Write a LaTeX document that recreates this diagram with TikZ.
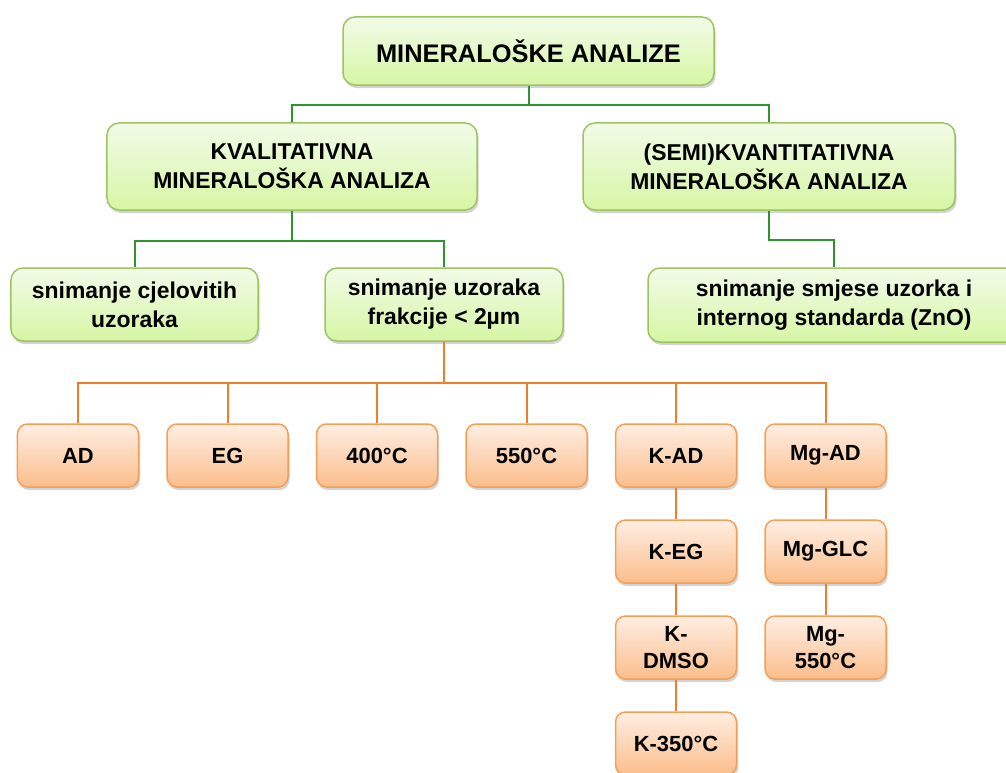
\documentclass[tikz,border=0pt]{standalone}
\usepackage{fontspec}
\setmainfont{Liberation Sans}
\usetikzlibrary{positioning}
\usetikzlibrary{shadows}

\definecolor{gline}{RGB}{46,148,46}
\definecolor{gtop}{RGB}{242,251,232}
\definecolor{gbot}{RGB}{214,246,164}
\definecolor{gedge}{RGB}{158,196,98}
\definecolor{oline}{RGB}{238,125,45}
\definecolor{otop}{RGB}{254,238,226}
\definecolor{obot}{RGB}{251,190,140}
\definecolor{oedge}{RGB}{245,158,86}

\begin{document}
\begin{tikzpicture} [x=1bp, y=-1bp,
        gbox/.style = {draw=gedge, line width=1.5bp, rounded corners=12bp, top color=gtop, bottom color=gbot,
                       align=center, inner sep=0pt, minimum height=87bp,
                       font=\fontsize{23}{29}\selectfont\bfseries,
                       drop shadow={shadow xshift=1.5bp, shadow yshift=-3bp, opacity=0.35}},
        obox/.style = {draw=oedge, line width=1.5bp, rounded corners=10bp, top color=otop, bottom color=obot,
                       align=center, inner sep=0pt, minimum width=121bp, minimum height=63bp,
                       font=\fontsize{22}{27}\selectfont\bfseries,
                       drop shadow={shadow xshift=1.5bp, shadow yshift=-3bp, opacity=0.35}},
        gedge/.style = {draw=gline, line width=2bp},
        oedge/.style = {draw=oline, line width=2bp}]
        \useasboundingbox (0,0) rectangle (1006,773);

        %Knoten
        \node[gbox, minimum width=371bp, minimum height=68bp, font=\fontsize{25.5}{30}\selectfont\bfseries] (min) at (528.5,51) {MINERALOŠKE ANALIZE};

        \node[gbox, minimum width=370bp] (kval) at (292,166.5) {KVALITATIVNA\\MINERALOŠKA ANALIZA};
        \node[gbox, minimum width=372bp] (kvant) at (769,166.5) {(SEMI)KVANTITATIVNA\\MINERALOŠKA ANALIZA};

        \node[gbox, minimum width=247bp, minimum height=73bp] (cjel) at (134.5,304.5) {snimanje cjelovitih\\uzoraka};
        \node[gbox, minimum width=238bp, minimum height=73bp] (frak) at (444,304.5) {snimanje uzoraka\\frakcije < 2µm};
        \node[gbox, minimum width=372bp, minimum height=74bp] (smj) at (834,305) {snimanje smjese uzorka i\\internog standarda (ZnO)};

        \node[obox] (ad) at (78,455.5) {AD};
        \node[obox] (eg) [right = 27bp of ad] {EG};
        \node[obox] (t400) [right = 27bp of eg] {400°C};
        \node[obox] (t550) [right = 27bp of t400] {550°C};
        \node[obox] (kad) [right = 27bp of t550] {K-AD};
        \node[obox] (mgad) [right = 27bp of kad] {Mg-AD};

        \node[obox] (keg) [below = 31.5bp of kad] {K-EG};
        \node[obox] (kdmso) [below = 31.5bp of keg] {K-\\DMSO};
        \node[obox] (k350) [below = 31.5bp of kdmso] {K-350°C};

        \node[obox] (mgglc) [below = 31.5bp of mgad] {Mg-GLC};
        \node[obox] (mg550) [below = 31.5bp of mgglc] {Mg-\\550°C};

        %Kanten
        \draw[gedge] (min.south) -- ++(0,19) -| (kval.north);
        \draw[gedge] (min.south) -- ++(0,19) -| (kvant.north);

        \draw[gedge] (kval.south) -- ++(0,30) -| (cjel.north);
        \draw[gedge] (kval.south) -- ++(0,30) -| (frak.north);
        \draw[gedge] (kvant.south) -- ++(0,29) -| (smj.north);

        \draw[oedge] (frak.south) -- ++(0,41) -| (ad.north);
        \draw[oedge] (frak.south) -- ++(0,41) -| (eg.north);
        \draw[oedge] (frak.south) -- ++(0,41) -| (t400.north);
        \draw[oedge] (frak.south) -- ++(0,41) -| (t550.north);
        \draw[oedge] (frak.south) -- ++(0,41) -| (kad.north);
        \draw[oedge] (frak.south) -- ++(0,41) -| (mgad.north);

        \draw[oedge] (kad) -- (keg);
        \draw[oedge] (keg) -- (kdmso);
        \draw[oedge] (kdmso) -- (k350);
        \draw[oedge] (mgad) -- (mgglc);
        \draw[oedge] (mgglc) -- (mg550);

    \end{tikzpicture}
\end{document}
